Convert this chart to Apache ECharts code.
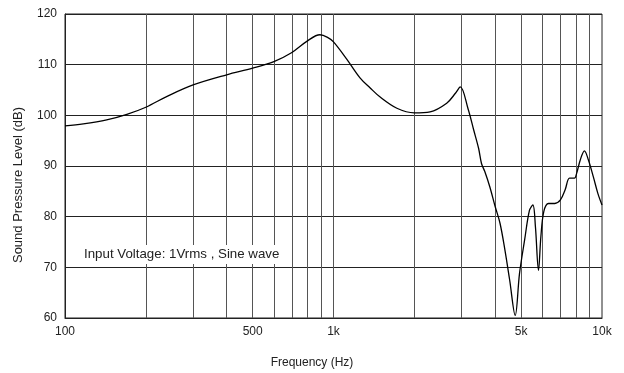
<!DOCTYPE html>
<html>
<head>
<meta charset="utf-8">
<script src="https://cdn.jsdelivr.net/npm/echarts@6/dist/echarts.min.js"></script>
<style>html,body{margin:0;padding:0;background:#fff}#c{width:624px;height:373px}</style>
</head>
<body>
<div id="c"></div>
<script>
const freqs = [100,117,143,170,200,239,300,400,500,600,700,800,890,950,1000,1120,1255,1370,1492,1722,2000,2290,2640,2850,2966,3170,3328,3470,3558,3660,3820,4000,4170,4350,4530,4750,4930,5150,5370,5530,5650,5800,5920,6070,6320,6670,7000,7290,7570,7900,8050,8300,8600,8900,9280,9650,10000];
const spl = [97.9,98.3,99.1,100.2,101.6,103.7,106.0,108.0,109.3,110.6,112.4,114.7,115.9,115.4,114.5,111.1,107.4,105.4,103.6,101.4,100.5,100.7,102.4,104.4,105.6,101.3,97.1,93.5,90.5,88.9,85.9,82.0,78.7,73.4,67.5,60.5,68.8,75.4,81.3,82.3,78.0,69.4,76.0,81.0,82.6,82.6,83.3,85.3,87.6,87.6,88.6,91.2,93.0,91.2,87.9,84.6,82.3];
const xGridValues = [200,300,400,500,600,700,800,900,1000,2000,3000,4000,5000,6000,7000,8000,9000];
const xLabelValues = [100,500,1000,5000,10000];
const xLabelTexts = {100:'100',500:'500',1000:'1k',5000:'5k',10000:'10k'};
const xName = 'Frequency (Hz)';
const yName = 'Sound Pressure Level (dB)';
const note = 'Input Voltage: 1Vrms , Sine wave';

const font = 'Liberation Sans, Arial, sans-serif';
const chart = echarts.init(document.getElementById('c'));
chart.setOption({
  animation: false,
  backgroundColor: '#fff',
  grid: {left: 65, right: 22, top: 14, bottom: 55, show: true, borderColor: '#222', borderWidth: 1},
  xAxis: {
    type: 'log', logBase: 10, min: 100, max: 10000,
    axisLine: {show: true, lineStyle: {color: '#222', width: 1}},
    axisTick: {show: false, customValues: xGridValues},
    axisLabel: {customValues: xLabelValues, margin: 8, color: '#222', fontSize: 12, fontFamily: font,
      formatter: v => xLabelTexts[Math.round(v)] || ''},
    splitLine: {show: true, lineStyle: {color: '#555', width: 1}},
    minorTick: {show: false}, minorSplitLine: {show: false}
  },
  yAxis: {
    type: 'value', min: 60, max: 120, interval: 10,
    axisLine: {show: true, lineStyle: {color: '#222'}},
    axisTick: {show: false},
    axisLabel: {margin: 8, color: '#222', fontSize: 12, fontFamily: font},
    splitLine: {show: true, lineStyle: {color: '#222', width: 1}}
  },
  graphic: [
    {type: 'text', z: 100, x: 312, y: 363, style: {text: xName, font: '12px ' + font, fill: '#222', align: 'center', verticalAlign: 'middle'}},
    {type: 'text', z: 100, x: 18, y: 185, rotation: Math.PI / 2, style: {text: yName, font: '13px ' + font, fill: '#222', align: 'center', verticalAlign: 'middle'}},
    {type: 'text', z: 100, x: 80, y: 254.5, style: {text: note, font: '13.3px ' + font, fill: '#222', verticalAlign: 'middle', backgroundColor: '#fff', padding: [3, 4, 3, 4]}}
  ],
  series: [{
    type: 'line', data: freqs.map((f, i) => [f, spl[i]]),
    showSymbol: false, smooth: 0.35,
    lineStyle: {color: '#000', width: 1.3}
  }]
});
</script>
</body>
</html>
